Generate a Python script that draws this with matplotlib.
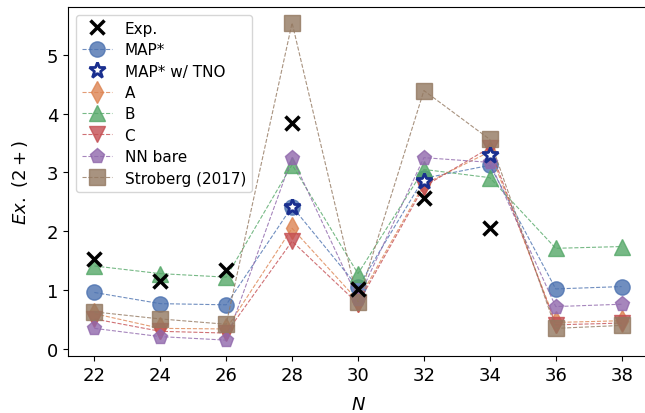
import matplotlib
matplotlib.use("Agg")
import matplotlib.pyplot as plt
import numpy as np

N = [22, 24, 26, 28, 30, 32, 34, 36, 38]

exp_N = [22, 24, 26, 28, 30, 32, 34]
exp_vals = [1.52, 1.16, 1.34, 3.84, 1.02, 2.56, 2.05]

map_vals = [0.96, 0.77, 0.75, 2.42, 1.05, 2.90, 3.12, 1.02, 1.06]
tno_N = [28, 32, 34]
tno_vals = [2.42, 2.85, 3.30]
a_vals = [0.60, 0.35, 0.34, 2.05, 0.82, 2.80, 3.35, 0.45, 0.48]
b_vals = [1.41, 1.28, 1.22, 3.13, 1.28, 3.05, 2.91, 1.71, 1.74]
c_vals = [0.51, 0.30, 0.27, 1.83, 0.77, 2.76, 3.42, 0.41, 0.44]
nn_vals = [0.35, 0.21, 0.15, 3.25, 0.85, 3.25, 3.17, 0.72, 0.76]
strob_vals = [0.63, 0.51, 0.42, 5.54, 0.80, 4.39, 3.56, 0.35, 0.40]

cols = ["#4C72B0", "#DD8452", "#55A868", "#C44E52", "#9068AC", "#937860"]

fig = plt.figure(figsize=(6.45, 4.14), dpi=100)
ax = fig.add_axes([68/645, 1-357/414, (648-68)/645, (357-8)/414])

ax.plot(exp_N, exp_vals, 'x', color='black', ms=10, mew=2.5, ls='none', label='Exp.', zorder=10)
series = [
    (map_vals, 'o', cols[0], 'MAP*'),
    None,
    (a_vals, 'd', cols[1], 'A'),
    (b_vals, '^', cols[2], 'B'),
    (c_vals, 'v', cols[3], 'C'),
    (nn_vals, 'p', cols[4], 'NN bare'),
    (strob_vals, 's', cols[5], 'Stroberg (2017)'),
]
for s in series:
    if s is None:
        ax.plot(tno_N, tno_vals, '*', ms=12, mfc='white', mec='#1a2f8f', mew=2,
                ls='none', label='MAP* w/ TNO', zorder=9)
        continue
    vals, m, col, lab = s
    ax.plot(N, vals, marker=m, color=col, ms=11, alpha=0.8, ls='--', lw=0.8,
            label=lab)

ax.set_xticks(N)
ax.set_yticks([0, 1, 2, 3, 4, 5])
ax.tick_params(labelsize=13)
ax.set_xlabel('$N$', fontsize=13, labelpad=8)
ax.set_ylabel(r'$Ex.\ (2+)$', fontsize=13, labelpad=12)
ax.legend(loc='upper left', fontsize=11, labelspacing=0.42)

fig.savefig('out.png', dpi=100)
